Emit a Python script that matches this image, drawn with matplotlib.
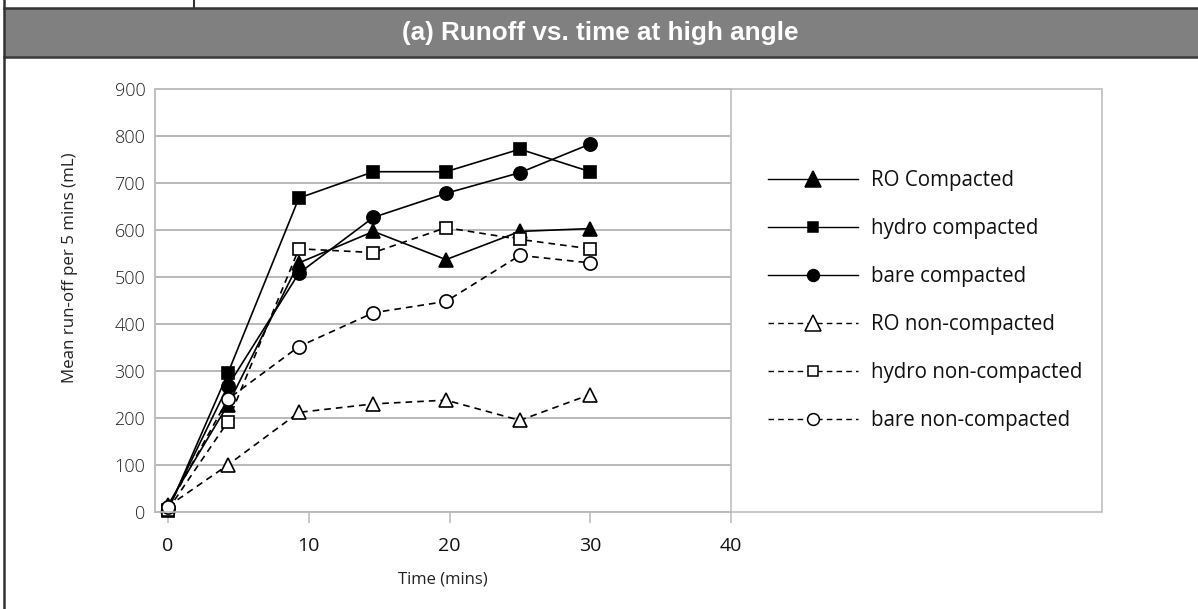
import matplotlib
matplotlib.use("Agg")
import matplotlib.pyplot as plt
from matplotlib.patches import Rectangle
from matplotlib.lines import Line2D

# ---- data ----
time_mins = [0, 4.25, 9.3, 14.6, 19.75, 25, 30]
ro_compacted = [15, 228, 530, 597, 537, 597, 603]
hydro_compacted = [3, 295, 668, 724, 724, 772, 724]
bare_compacted = [8, 268, 508, 627, 678, 722, 783]
ro_noncompacted = [12, 100, 212, 230, 238, 195, 250]
hydro_noncompacted = [5, 192, 560, 552, 605, 580, 560]
bare_noncompacted = [10, 240, 352, 424, 448, 546, 530]

series_labels = ["RO Compacted", "hydro compacted", "bare compacted",
                 "RO non-compacted", "hydro non-compacted", "bare non-compacted"]
x_ticks = [0, 10, 20, 30, 40]
y_ticks = [0, 100, 200, 300, 400, 500, 600, 700, 800, 900]
title_text = "(a) Runoff vs. time at high angle"
x_label = "Time (mins)"
y_label = "Mean run-off per 5 mins (mL)"

W, H = 1198, 609
fig = plt.figure(figsize=(W / 100, H / 100), dpi=100)
fig.patch.set_facecolor("white")


def fx(px):
    return px / W


def fy(py):
    return 1 - py / H


BODY = "Open Sans"

# ---- page frame / header ----
fig.patches.append(Rectangle((fx(4), fy(57)), fx(W) - fx(4), fy(8) - fy(57),
                             transform=fig.transFigure, facecolor="#808080",
                             edgecolor="none", zorder=0))
fig.add_artist(Line2D([fx(4), 1], [fy(7.5), fy(7.5)], color="#333333", lw=1.8))
fig.add_artist(Line2D([fx(4), 1], [fy(57), fy(57)], color="#3a3a3a", lw=1.8))
fig.add_artist(Line2D([fx(4), fx(4)], [0, 1], color="#333333", lw=1.8))
fig.add_artist(Line2D([fx(194), fx(194)], [fy(7.5), 1], color="#333333", lw=1.5))
fig.text(fx(600), fy(33), title_text, color="white", fontsize=18.8, fontweight="bold",
         family="Liberation Sans", ha="center", va="center")

# ---- chart area box ----
fig.patches.append(Rectangle((fx(155), fy(512)), fx(1102) - fx(155), fy(89) - fy(512),
                             transform=fig.transFigure, facecolor="none",
                             edgecolor="#bfbfbf", lw=1.2, zorder=1))

ax_l, ax_r, ax_t, ax_b = 155, 731, 89, 512
ax = fig.add_axes([fx(ax_l), fy(ax_b), fx(ax_r) - fx(ax_l), fy(ax_t) - fy(ax_b)])
ax.set_facecolor("none")
ppu = (ax_r - 168) / 40.0
ax.set_xlim(-(168 - ax_l) / ppu, 40)
ax.set_ylim(0, 900)

for s in ax.spines.values():
    s.set_color("#bfbfbf")
    s.set_linewidth(1.2)
ax.spines["bottom"].set_color("#a6a6a6")

ax.set_yticks(y_ticks)
ax.set_xticks(x_ticks)
ax.yaxis.grid(True, color="#a6a6a6", lw=1.1)
ax.set_axisbelow(True)
ax.tick_params(axis="y", length=0, pad=7, labelsize=13, labelcolor="#222222")
ax.tick_params(axis="x", direction="out", length=8, width=1.2, color="#bfbfbf",
               pad=10, labelsize=14, labelcolor="#111111")
for lab in ax.get_yticklabels():
    lab.set_family(BODY)
    lab.set_fontweight("light")
for lab in ax.get_xticklabels():
    lab.set_family(BODY)

ax.set_xlabel(x_label, fontsize=12, family=BODY, color="#222222", labelpad=12)
fig.text(fx(70), fy(268), y_label, fontsize=12.2, family=BODY, color="#222222",
         rotation=90, ha="center", va="center")

dash = (0, (4, 3))
lw = 1.2
styles = [
    dict(ls="-", marker="^", mfc="black", ms=10.5),
    dict(ls="-", marker="s", mfc="black", ms=8.8),
    dict(ls="-", marker="o", mfc="black", ms=9.5),
    dict(ls=dash, marker="^", mfc="white", ms=10.5),
    dict(ls=dash, marker="s", mfc="white", ms=8.8),
    dict(ls=dash, marker="o", mfc="white", ms=9.5),
]
data = [ro_compacted, hydro_compacted, bare_compacted,
        ro_noncompacted, hydro_noncompacted, bare_noncompacted]
for i, (vals, st) in enumerate(zip(data, styles)):
    ax.plot(time_mins, vals, color="black", lw=lw, linestyle=st["ls"],
            marker=st["marker"], mfc=st["mfc"], mec="black", mew=1.2,
            ms=st["ms"], clip_on=False, zorder=3 + i)

# ---- legend ----
leg_ms = {"^": 11, "s": 7.5, "o": 8.5}
handles = [Line2D([], [], color="black", lw=1.0, linestyle=st["ls"], marker=st["marker"],
                  mfc=st["mfc"], mec="black", mew=1.1, ms=leg_ms[st["marker"]])
           for st in styles]
leg = fig.legend(handles, series_labels, loc="upper left",
                 bbox_to_anchor=(fx(754), fy(156)), frameon=False,
                 prop={"family": BODY, "size": 14.8}, handlelength=4.38,
                 handletextpad=0.63, labelspacing=1.31, borderpad=0.2)
for t in leg.get_texts():
    t.set_color("#111111")

fig.savefig("out.png", dpi=100)
